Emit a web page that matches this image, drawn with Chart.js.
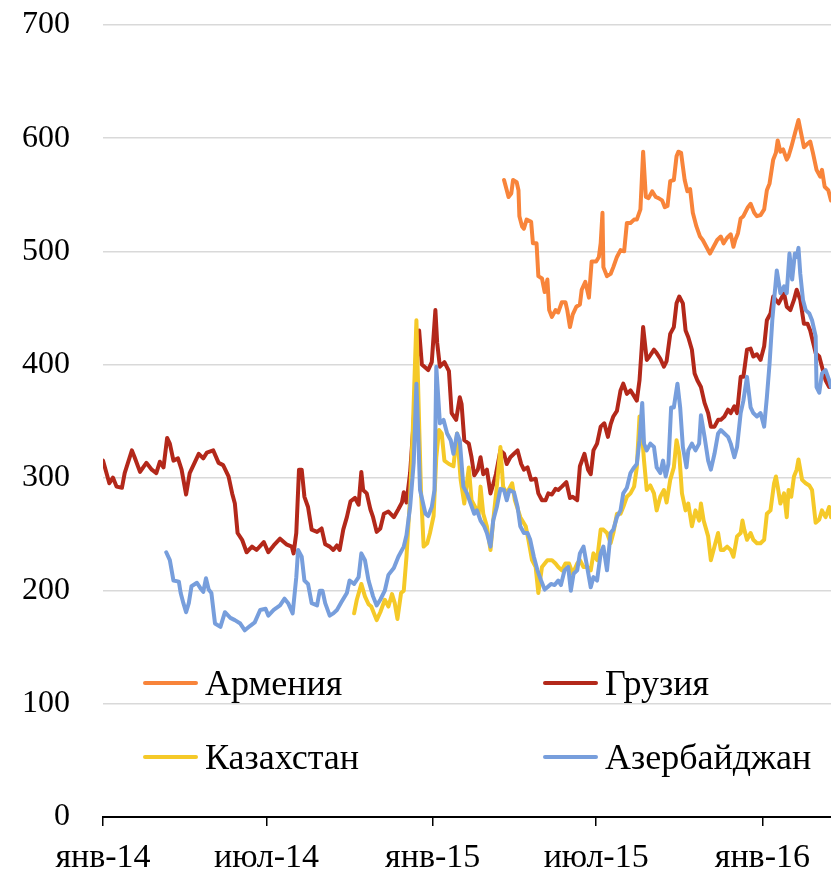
<!DOCTYPE html>
<html>
<head>
<meta charset="utf-8">
<script src="https://cdn.jsdelivr.net/npm/chart.js@4.4.1/dist/chart.umd.min.js"></script>
<style>
  html, body { margin: 0; padding: 0; background: #fff; }
  #wrap { position: relative; width: 831px; height: 877px; }
  #legend .item { position: absolute; font-family: "Liberation Serif", serif; font-size: 36px; color: #000; line-height: 40px; white-space: nowrap; }
  #legend .swatch { position: absolute; left: 0; top: 18px; width: 55px; height: 4px; border-radius: 2px; }
  #legend .label { position: absolute; left: 62px; top: 0; }
</style>
</head>
<body>
<div id="wrap">
  <canvas id="chart" width="831" height="877"></canvas>
  <div id="legend"></div>
</div>
<script>
// дни от 1 января 2014
const tickDays = [0, 181, 365, 546, 730];
const tickLabels = ['янв-14', 'июл-14', 'янв-15', 'июл-15', 'янв-16'];

const seriesNames = ['Армения', 'Грузия', 'Казахстан', 'Азербайджан'];
const seriesColors = ['#F8843A', '#B3281A', '#F5C928', '#779EDC'];

const armeniaDays = [444, 446, 449, 452, 454, 458, 460, 461, 464, 466, 469, 474, 476, 480, 482, 486, 489, 492, 494, 497, 501, 504, 508, 512, 514, 517, 520, 524, 528, 530, 534, 538, 541, 546, 549, 551, 553, 554, 558, 562, 565, 569, 573, 577, 580, 584, 588, 591, 595, 598, 601, 604, 608, 612, 615, 619, 622, 625, 628, 632, 635, 637, 640, 642, 644, 647, 650, 653, 657, 661, 664, 668, 672, 676, 680, 684, 687, 691, 695, 698, 700, 703, 706, 709, 714, 717, 721, 724, 728, 732, 735, 738, 742, 745, 747, 750, 753, 757, 759, 762, 765, 768, 770, 773, 776, 780, 783, 786, 790, 794, 796, 799, 803, 806];
const armenia = [563, 557, 548, 551, 563, 561, 554, 531, 522, 520, 528, 526, 507, 507, 478, 476, 464, 475, 448, 442, 448, 446, 455, 455, 448, 433, 444, 451, 453, 466, 473, 459, 491, 491, 495, 507, 534, 486, 478, 480, 486, 495, 501, 500, 525, 525, 528, 528, 537, 588, 548, 547, 553, 548, 547, 545, 539, 540, 562, 563, 584, 588, 587, 575, 563, 553, 555, 534, 522, 513, 510, 504, 498, 504, 510, 513, 507, 512, 515, 504, 510, 516, 529, 531, 539, 542, 534, 531, 532, 537, 554, 560, 581, 587, 598, 588, 590, 581, 584, 592, 601, 610, 616, 604, 592, 595, 597, 587, 572, 566, 572, 557, 554, 545];

const georgiaDays = [0, 7, 11, 15, 21, 24, 32, 35, 41, 48, 54, 59, 63, 67, 71, 74, 78, 83, 87, 92, 96, 102, 106, 111, 115, 122, 128, 133, 139, 143, 146, 149, 154, 159, 165, 170, 178, 183, 189, 196, 203, 209, 211, 214, 217, 220, 223, 227, 231, 237, 242, 246, 251, 255, 259, 262, 266, 270, 274, 279, 283, 286, 288, 292, 296, 299, 303, 307, 311, 316, 322, 327, 331, 333, 336, 340, 344, 347, 350, 353, 360, 364, 368, 370, 373, 378, 383, 386, 391, 395, 397, 400, 405, 408, 411, 415, 418, 421, 425, 429, 432, 435, 440, 444, 447, 451, 455, 459, 463, 466, 470, 474, 479, 482, 486, 490, 493, 497, 501, 504, 508, 513, 517, 520, 525, 528, 533, 537, 540, 543, 547, 551, 555, 559, 562, 565, 569, 573, 576, 580, 584, 588, 591, 594, 598, 602, 605, 610, 613, 617, 621, 624, 628, 632, 635, 638, 642, 645, 648, 652, 655, 658, 662, 666, 670, 673, 677, 681, 684, 688, 692, 695, 699, 702, 706, 709, 713, 717, 720, 724, 728, 732, 735, 739, 742, 745, 748, 754, 757, 761, 765, 768, 772, 776, 780, 783, 789, 793, 796, 800, 804, 806];
const georgia = [315, 295, 300, 292, 291, 304, 324, 318, 305, 313, 307, 304, 314, 309, 335, 330, 315, 317, 307, 285, 304, 314, 321, 317, 322, 324, 313, 311, 301, 286, 277, 251, 245, 234, 239, 236, 243, 234, 240, 246, 241, 239, 233, 251, 307, 307, 283, 274, 254, 252, 255, 241, 239, 236, 240, 236, 254, 265, 279, 282, 276, 305, 289, 286, 272, 265, 252, 255, 268, 270, 265, 272, 278, 287, 278, 304, 350, 400, 430, 400, 395, 402, 448, 419, 398, 402, 394, 357, 351, 371, 365, 333, 330, 318, 302, 307, 318, 303, 307, 286, 294, 303, 324, 321, 312, 318, 321, 324, 312, 307, 309, 298, 299, 286, 280, 280, 286, 285, 290, 289, 292, 296, 282, 283, 280, 310, 321, 307, 303, 324, 330, 345, 348, 336, 347, 354, 359, 377, 383, 374, 377, 372, 368, 386, 433, 404, 407, 413, 410, 405, 398, 403, 427, 433, 454, 460, 454, 430, 424, 413, 392, 386, 380, 366, 357, 345, 345, 351, 351, 354, 360, 357, 363, 357, 389, 389, 413, 414, 407, 409, 404, 416, 439, 445, 460, 457, 454, 463, 451, 448, 457, 466, 457, 436, 436, 430, 410, 407, 398, 386, 380, 380];

const kazakhDays = [278, 281, 286, 290, 294, 297, 303, 307, 312, 316, 320, 323, 326, 330, 333, 336, 340, 343, 347, 349, 352, 355, 359, 362, 366, 369, 372, 375, 378, 383, 388, 392, 396, 400, 405, 408, 412, 416, 418, 421, 425, 429, 432, 436, 440, 443, 447, 453, 456, 462, 468, 471, 475, 479, 482, 486, 492, 497, 501, 504, 508, 512, 516, 520, 525, 528, 532, 536, 540, 543, 547, 551, 554, 558, 562, 565, 569, 573, 576, 580, 584, 588, 591, 594, 597, 599, 602, 606, 610, 613, 617, 621, 624, 628, 632, 635, 638, 641, 645, 648, 652, 656, 660, 662, 665, 670, 673, 677, 681, 684, 687, 691, 695, 698, 702, 706, 708, 710, 713, 717, 720, 724, 728, 732, 735, 739, 743, 745, 747, 750, 754, 757, 759, 762, 765, 768, 770, 774, 778, 782, 785, 789, 793, 796, 800, 804, 806];
const kazakh = [180, 192, 206, 195, 188, 186, 174, 181, 192, 186, 197, 189, 175, 198, 200, 230, 283, 342, 439, 377, 289, 239, 242, 251, 266, 318, 342, 339, 315, 312, 310, 339, 298, 277, 309, 280, 274, 268, 292, 268, 257, 236, 262, 292, 327, 292, 286, 295, 280, 265, 257, 245, 227, 221, 198, 221, 227, 227, 224, 221, 218, 224, 224, 215, 224, 227, 221, 221, 218, 233, 227, 254, 254, 251, 242, 251, 268, 268, 274, 283, 286, 292, 309, 354, 336, 315, 289, 293, 286, 271, 283, 289, 278, 298, 309, 333, 321, 286, 271, 277, 257, 271, 262, 277, 262, 248, 227, 239, 251, 236, 236, 239, 236, 230, 248, 251, 262, 254, 245, 251, 245, 242, 242, 245, 268, 271, 295, 301, 292, 277, 286, 265, 289, 283, 301, 307, 316, 298, 295, 293, 289, 260, 263, 271, 265, 274, 265];

const azerDays = [70, 74, 78, 84, 86, 89, 92, 95, 98, 104, 108, 111, 114, 117, 120, 124, 130, 135, 141, 146, 152, 157, 163, 168, 174, 180, 183, 189, 196, 201, 205, 210, 214, 216, 220, 223, 227, 231, 237, 240, 243, 246, 251, 255, 259, 264, 270, 273, 278, 283, 286, 290, 294, 299, 303, 307, 312, 316, 322, 327, 333, 336, 340, 344, 347, 349, 351, 357, 360, 364, 367, 369, 373, 377, 381, 385, 388, 392, 395, 399, 403, 407, 411, 414, 418, 422, 425, 429, 432, 436, 440, 444, 447, 450, 455, 459, 462, 466, 470, 473, 477, 481, 485, 489, 492, 496, 500, 504, 507, 511, 515, 518, 521, 525, 528, 532, 536, 540, 543, 547, 551, 554, 558, 562, 565, 569, 573, 576, 580, 584, 588, 591, 594, 597, 599, 602, 606, 610, 613, 617, 620, 623, 626, 629, 632, 636, 639, 642, 646, 648, 652, 656, 660, 662, 666, 670, 673, 677, 681, 684, 688, 692, 695, 699, 702, 706, 709, 713, 717, 720, 724, 728, 732, 735, 738, 741, 743, 746, 750, 754, 757, 760, 763, 766, 768, 770, 772, 775, 778, 782, 785, 789, 790, 793, 796, 800, 804, 806];
const azer = [234, 227, 209, 208, 198, 189, 181, 189, 204, 207, 202, 199, 211, 201, 198, 171, 168, 181, 176, 174, 171, 165, 169, 172, 183, 184, 178, 183, 187, 193, 189, 180, 212, 236, 230, 209, 206, 189, 187, 200, 200, 189, 178, 180, 183, 190, 198, 209, 206, 212, 233, 227, 209, 195, 187, 192, 200, 214, 220, 230, 239, 249, 274, 313, 383, 339, 289, 268, 266, 274, 289, 398, 348, 351, 339, 333, 321, 339, 333, 292, 286, 277, 268, 271, 262, 257, 251, 239, 262, 274, 290, 289, 280, 289, 287, 274, 257, 251, 251, 245, 230, 218, 209, 201, 203, 206, 205, 209, 205, 218, 221, 200, 215, 218, 233, 239, 221, 203, 212, 209, 233, 239, 218, 251, 254, 265, 271, 286, 291, 304, 309, 312, 333, 366, 330, 324, 330, 327, 309, 304, 315, 301, 312, 362, 362, 383, 362, 327, 309, 324, 330, 324, 330, 355, 336, 315, 307, 321, 339, 342, 339, 336, 330, 318, 327, 357, 368, 389, 362, 357, 354, 357, 345, 371, 401, 439, 457, 483, 463, 469, 463, 498, 475, 498, 495, 503, 480, 457, 448, 445, 439, 425, 380, 375, 392, 395, 386, 380];

const seriesDays = [armeniaDays, georgiaDays, kazakhDays, azerDays];
const seriesValues = [armenia, georgia, kazakh, azer];

const font = "'Liberation Serif', 'Times New Roman', serif";

const datasets = seriesNames.map((name, i) => ({
  label: name,
  data: seriesDays[i].map((d, j) => ({ x: d, y: seriesValues[i][j] })),
  borderColor: seriesColors[i],
  backgroundColor: seriesColors[i],
  borderWidth: 4,
  borderJoinStyle: 'round',
  borderCapStyle: 'round',
  pointRadius: 0,
  tension: 0,
  fill: false,
  order: 4 - i
}));

const ctx = document.getElementById('chart').getContext('2d');
new Chart(ctx, {
  type: 'line',
  data: { datasets: datasets },
  options: {
    responsive: false,
    animation: false,
    devicePixelRatio: 1,
    layout: { padding: 0 },
    plugins: {
      legend: { display: false },
      tooltip: { enabled: false }
    },
    scales: {
      x: {
        type: 'linear',
        min: 0,
        max: 806,
        afterBuildTicks: (scale) => { scale.ticks = tickDays.map(v => ({ value: v })); },
        afterFit: (scale) => { scale.height = 60; },
        ticks: {
          autoSkip: false,
          maxRotation: 0,
          padding: 12,
          color: '#000',
          font: { family: font, size: 34 },
          callback: (value) => tickLabels[tickDays.indexOf(value)]
        },
        grid: { drawOnChartArea: false, drawTicks: true, tickLength: 9, color: '#000', lineWidth: 1.5 },
        border: { display: true, color: '#000', width: 2 }
      },
      y: {
        min: 0,
        max: 700,
        afterFit: (scale) => {
          scale.width = 103;
          scale.paddingTop = 25;
          scale.paddingBottom = 0;
        },
        ticks: {
          stepSize: 100,
          padding: 33,
          color: '#000',
          font: { family: font, size: 32 }
        },
        grid: { color: '#D9D9D9', lineWidth: 1.5, drawTicks: false },
        border: { display: false }
      }
    }
  }
});

// легенда внутри области графика
const legendPos = [[143, 663], [543, 663], [143, 737], [543, 737]];
const legend = document.getElementById('legend');
seriesNames.forEach((name, i) => {
  const item = document.createElement('div');
  item.className = 'item';
  item.style.left = legendPos[i][0] + 'px';
  item.style.top = legendPos[i][1] + 'px';
  item.innerHTML = '<span class="swatch" style="background:' + seriesColors[i] + '"></span><span class="label">' + name + '</span>';
  legend.appendChild(item);
});
</script>
</body>
</html>
